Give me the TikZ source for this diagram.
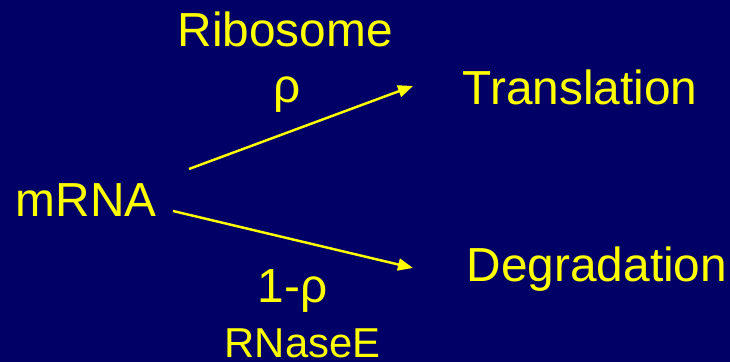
\documentclass[tikz,border=0pt]{standalone}
\usepackage{fontspec}
\setmainfont{Liberation Sans}
\usepackage{xcolor}
\usetikzlibrary{arrows.meta}
\definecolor{slide}{HTML}{000066}
\definecolor{ink}{HTML}{FFFF00}

\begin{document}
\begin{tikzpicture}[
          lbl/.style={anchor=base west, inner sep=0pt, text=ink, font=\fontsize{13.6}{16}\selectfont},
          ar/.style={ink, line width=0.7pt, -{Triangle[length=1.5mm, width=1.2mm]}}
        ]
        \fill[slide] (0,0) rectangle (7.3,-3.62);
        \useasboundingbox (0,0) rectangle (7.3,-3.62);

        \node[lbl] (rna) at (0.15,-2.17) {mRNA};
        \node[lbl] (rib) at (1.77,-0.47) {Ribosome};
        \node[lbl] (rho) at (2.73,-1.03) {ρ};
        \node[lbl] (tra) at (4.62,-1.05) {Translation};
        \node[lbl] (deg) at (4.66,-2.82) {Degradation};
        \node[lbl] (nrho) at (2.57,-3.03) {1-ρ};
        \node[lbl, font=\fontsize{11.9}{14}\selectfont] (rne) at (2.24,-3.58) {RNaseE};

        \coordinate (up0) at (1.89,-1.69);
        \coordinate (up1) at (4.13,-0.86);
        \coordinate (dn0) at (1.73,-2.11);
        \coordinate (dn1) at (4.13,-2.68);
        \draw[ar] (up0) -- (up1);
        \draw[ar] (dn0) -- (dn1);
      \end{tikzpicture}
\end{document}
